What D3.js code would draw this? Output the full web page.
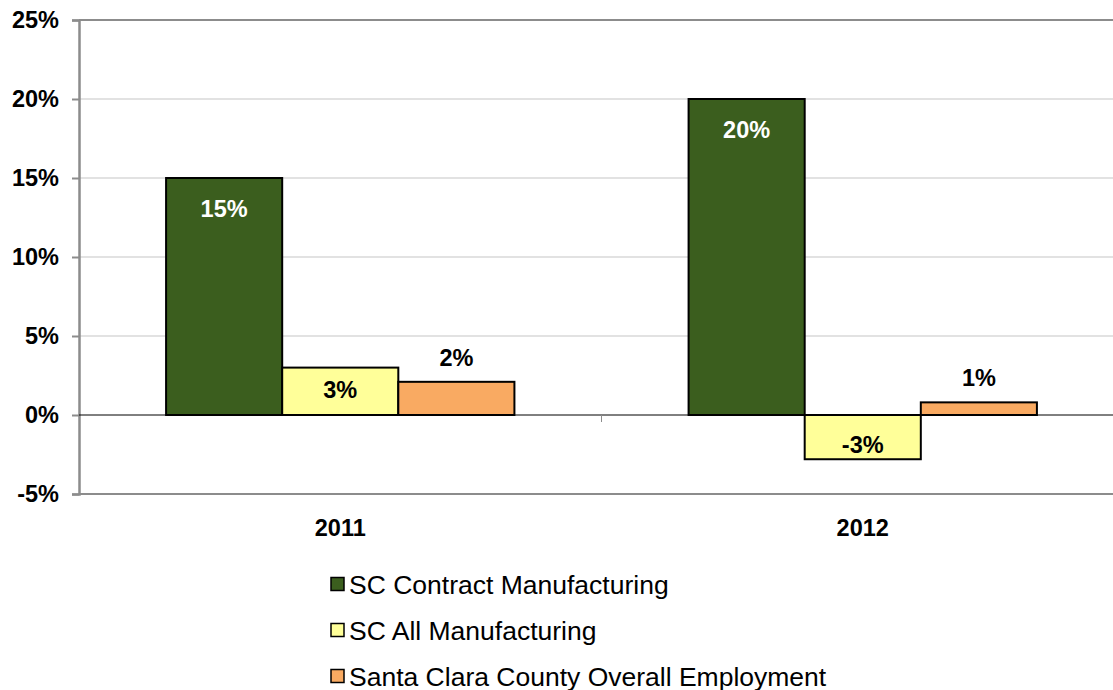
<!DOCTYPE html>
<html>
<head>
<meta charset="utf-8">
<script src="https://cdn.jsdelivr.net/npm/d3@7"></script>
<style>
  html, body { margin: 0; padding: 0; background: #fff; overflow: hidden; }
  svg { display: block; font-family: "Liberation Sans", Arial, sans-serif; }
</style>
</head>
<body>
<svg id="chart" width="1113" height="690"></svg>
<script>
const years = ["2011", "2012"];
const seriesNames = ["SC Contract Manufacturing", "SC All Manufacturing", "Santa Clara County Overall Employment"];
const contractMfg = [15.0, 20.0];
const allMfg = [3.0, -2.8];
const overallEmp = [2.1, 0.8];
const valueLabels = [["15%", "20%"], ["3%", "-3%"], ["2%", "1%"]];
const yTicks = [-5, 0, 5, 10, 15, 20, 25];
const colors = ["#3b5e1e", "#ffff99", "#f9aa62"];

const allSeries = [contractMfg, allMfg, overallEmp];

const svg = d3.select("#chart");
const m = { top: 20, left: 79, bottom: 494 };
const plotW = 1045;

const x = d3.scaleBand()
  .domain(years)
  .range([m.left, m.left + plotW])
  .paddingInner(0)
  .paddingOuter(0);

const y = d3.scaleLinear()
  .domain([-5, 25])
  .range([m.bottom, m.top]);

const inner = d3.scaleBand()
  .domain(d3.range(seriesNames.length))
  .range([0, x.bandwidth()])
  .paddingInner(0)
  .paddingOuter(0.75);

// gridlines
svg.append("g")
  .selectAll("line")
  .data(yTicks.filter(t => t !== 0 && t !== -5))
  .enter().append("line")
    .attr("x1", m.left).attr("x2", m.left + plotW)
    .attr("y1", d => y(d)).attr("y2", d => y(d))
    .attr("stroke", d => d === 25 ? "#8c8c8c" : "#d9d9d9")
    .attr("stroke-width", d => d === 25 ? 2 : 1.5);

// bottom border
svg.append("line")
  .attr("x1", m.left).attr("x2", m.left + plotW)
  .attr("y1", y(-5)).attr("y2", y(-5))
  .attr("stroke", "#8c8c8c").attr("stroke-width", 2);

// left axis
svg.append("g")
  .attr("transform", `translate(${m.left},0)`)
  .call(d3.axisLeft(y)
    .tickValues(yTicks)
    .tickFormat(d => d + "%")
    .tickSize(7)
    .tickPadding(13))
  .call(g => g.select(".domain").attr("stroke", "#8c8c8c").attr("stroke-width", 2.5))
  .call(g => g.selectAll(".tick line").attr("stroke", "#8c8c8c").attr("stroke-width", 2))
  .call(g => g.selectAll(".tick text")
    .attr("font-size", "23.5px")
    .attr("font-weight", "bold")
    .attr("fill", "#000")
    .attr("font-family", "'Liberation Sans', Arial, sans-serif"));

// bars
const groups = svg.append("g")
  .selectAll("g")
  .data(years)
  .enter().append("g")
    .attr("transform", d => `translate(${x(d)},0)`);

groups.selectAll("rect")
  .data((yr, i) => allSeries.map((s, k) => ({ k, v: s[i], label: valueLabels[k][i] })))
  .enter().append("rect")
    .attr("x", d => inner(d.k))
    .attr("width", inner.bandwidth())
    .attr("y", d => y(Math.max(0, d.v)))
    .attr("height", d => Math.abs(y(d.v) - y(0)))
    .attr("fill", d => colors[d.k])
    .attr("stroke", "#000")
    .attr("stroke-width", 2);

// zero line
svg.append("line")
  .attr("x1", m.left).attr("x2", m.left + plotW)
  .attr("y1", y(0)).attr("y2", y(0))
  .attr("stroke", "#000").attr("stroke-width", 1);

// category tick marks on zero line
svg.append("g")
  .selectAll("line")
  .data(years.slice(1))
  .enter().append("line")
    .attr("x1", d => x(d)).attr("x2", d => x(d))
    .attr("y1", y(0)).attr("y2", y(0) + 7)
    .attr("stroke", "#8c8c8c").attr("stroke-width", 1);

// value labels
groups.selectAll("text.val")
  .data((yr, i) => allSeries.map((s, k) => ({ k, v: s[i], label: valueLabels[k][i] })))
  .enter().append("text")
    .attr("class", "val")
    .attr("x", d => inner(d.k) + inner.bandwidth() / 2)
    .attr("y", d => {
      if (d.k === 0) return y(d.v) + 39;
      if (d.k === 1) return d.v >= 0 ? y(d.v) + 30 : y(d.v) - 6;
      return y(d.v) - 16;
    })
    .attr("text-anchor", "middle")
    .attr("font-size", "23.5px")
    .attr("font-weight", "bold")
    .attr("fill", d => d.k === 0 ? "#fff" : "#000")
    .text(d => d.label);

// category labels
svg.append("g")
  .selectAll("text")
  .data(years)
  .enter().append("text")
    .attr("x", d => x(d) + x.bandwidth() / 2)
    .attr("y", 536)
    .attr("text-anchor", "middle")
    .attr("font-size", "23.5px")
    .attr("font-weight", "bold")
    .text(d => d);

// legend
const legend = svg.append("g")
  .selectAll("g")
  .data(seriesNames)
  .enter().append("g")
    .attr("transform", (d, i) => `translate(331,${584 + i * 46})`);

legend.append("rect")
  .attr("x", 0).attr("y", -6.5)
  .attr("width", 13).attr("height", 13)
  .attr("fill", (d, i) => colors[i])
  .attr("stroke", "#000")
  .attr("stroke-width", 1.5);

legend.append("text")
  .attr("x", 18)
  .attr("y", 0)
  .attr("dy", "0.36em")
  .attr("font-size", "26.5px")
  .text(d => d);
</script>
</body>
</html>
